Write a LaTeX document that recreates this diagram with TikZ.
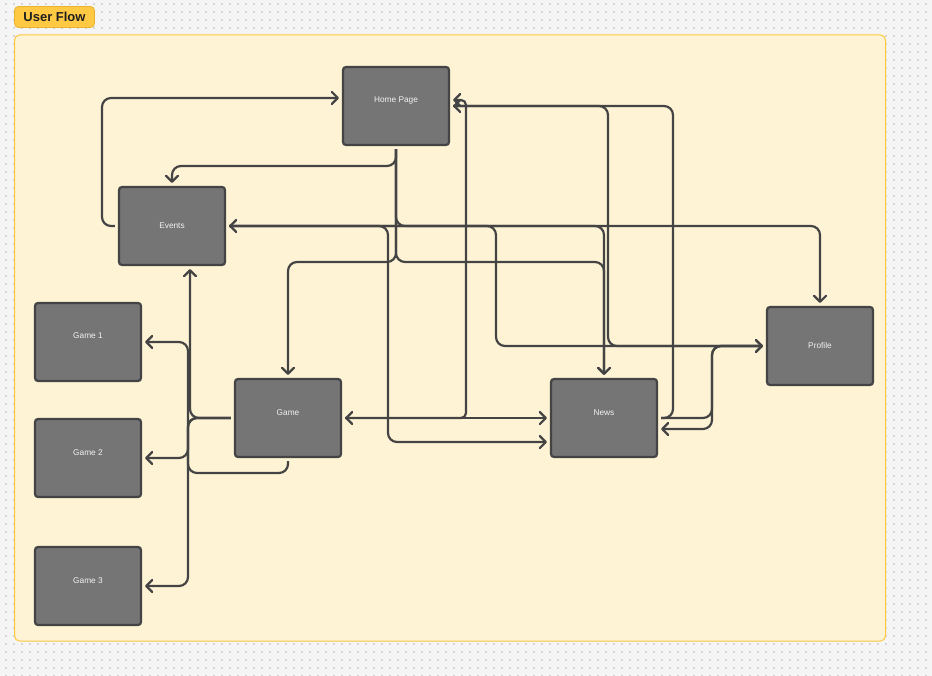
\documentclass[tikz,border=0pt]{standalone}
\usepackage{fontspec}
\setmainfont{Liberation Sans}
\usetikzlibrary{arrows.meta}
\definecolor{color_canvas_bg}{HTML}{F5F5F5}
\definecolor{color_canvas_dot}{HTML}{D6D6D6}
\definecolor{color_section_bg}{HTML}{FFF3D6}
\definecolor{color_section_border}{HTML}{FFC83D}
\definecolor{color_tag_bg}{HTML}{FFC943}
\definecolor{color_tag_border}{HTML}{EAB22E}
\definecolor{color_screen_bg}{HTML}{757575}
\definecolor{color_screen_border}{HTML}{444444}
\definecolor{color_screen_text}{HTML}{F2F2F2}
\definecolor{color_flow_line}{HTML}{444444}
\def\flowlinewidth{2.2pt}
\def\flowcornerradius{9pt}
\def\screenwidth{106pt}
\def\screenheight{78pt}
\def\screentextsize{\fontsize{8.3}{9}\selectfont}
\def\flowtip{Straight Barb[length=6pt,width=12pt,round]}
\tikzset{
  screenbox/.style={draw=color_screen_border, fill=color_screen_bg, line width=2.2pt,
    rounded corners=3pt, minimum width=\screenwidth, minimum height=\screenheight,
    text=color_screen_text, font=\screentextsize, inner sep=0pt},
  screenhigh/.style={screenbox, text height=6pt, text depth=12pt},
  tagbox/.style={draw=color_tag_border, fill=color_tag_bg, line width=0.8pt,
    rounded corners=4pt, minimum width=80pt, minimum height=21pt, inner sep=0pt,
    font=\fontsize{13}{14}\selectfont\bfseries, text=black!88},
  flowline/.style={draw=color_flow_line, line width=\flowlinewidth,
    rounded corners=\flowcornerradius, -{\flowtip}, shorten >=3pt, shorten <=3pt},
  flowboth/.style={flowline, {\flowtip}-{\flowtip}}
}

\begin{document}
\begin{tikzpicture}[x=1pt, y=-1pt]
  \useasboundingbox (0,0) rectangle (932,676);
  % canvas with dot grid
  \fill[color_canvas_bg] (0,0) rectangle (932,676);
  \foreach \y in {4,12,...,676}
    \draw[color_canvas_dot, line width=1.3pt, dash pattern=on 1.3pt off 6.7pt] (5.4,\y) -- (932,\y);
  % section
  \draw[fill=color_section_bg, draw=color_section_border, line width=1pt, rounded corners=5pt]
    (14.5,35) rectangle (885.5,641);
  \node[tagbox] (title) at (54.5,17) {User Flow};

  % screens
  \node[screenhigh] (home) at (396,106) {Home Page};
  \node[screenbox] (events) at (172,226) {Events};
  \node[screenhigh] (gameone) at (88,342) {Game 1};
  \node[screenhigh] (gametwo) at (88,458) {Game 2};
  \node[screenhigh] (gamethree) at (88,586) {Game 3};
  \node[screenhigh] (game) at (288,418) {Game};
  \node[screenhigh] (news) at (604,418) {News};
  \node[screenbox] (profile) at (820,346) {Profile};

  % home page and events
  \draw[flowline] (events.west) -- (102,226) -- (102,98) -- (home.west |- 0,98);
  \draw[flowline] (home.south) -- (396,166) -- (172,166) -- (events.north);
  \draw[flowline] (home.south) -- (396,226) -- (820,226) -- (profile.north);
  \draw[flowline] (home.south) -- (396,262) -- (288,262) -- (game.north);
  \draw[flowline] (home.south) -- (396,262) -- (604,262) -- (news.north);
  \draw[flowboth] (events.east) -- (388,226) -- (388,442) -- (news.west |- 0,442);
  \draw[flowline] (events.east) -- (496,226) -- (496,346) -- (profile.west);
  \draw[flowline] (events.east) -- (604,226) -- (news.north);

  % back to home page
  \draw[flowline, rounded corners=5pt] (game.east) -- (466,418) -- (466,100) -- (home.east |- 0,100);
  \draw[flowline] (news.east) -- (673,418) -- (673,106) -- (home.east |- 0,106);
  \draw[flowline] (home.east |- 0,106) -- (608,106) -- (608,346) -- (profile.west);
  \draw[flowboth] (game.east) -- (news.west);

  % news and profile
  \draw[flowline] (news.east) -- (712,418) -- (712,346) -- (profile.west);
  \draw[flowline] (profile.west) -- (712,346) -- (712,429) -- (news.east |- 0,429);

  % game to events and the single games
  \draw[flowline] (game.west) -- (190,418) -- (events.south -| 190,0);
  \draw[flowline] (game.south) -- (288,473) -- (188,473) -- (188,342) -- (gameone.east);
  \draw[flowline] (game.west) -- (188,418) -- (188,458) -- (gametwo.east);
  \draw[flowline] (game.west) -- (188,418) -- (188,586) -- (gamethree.east);
\end{tikzpicture}
\end{document}
